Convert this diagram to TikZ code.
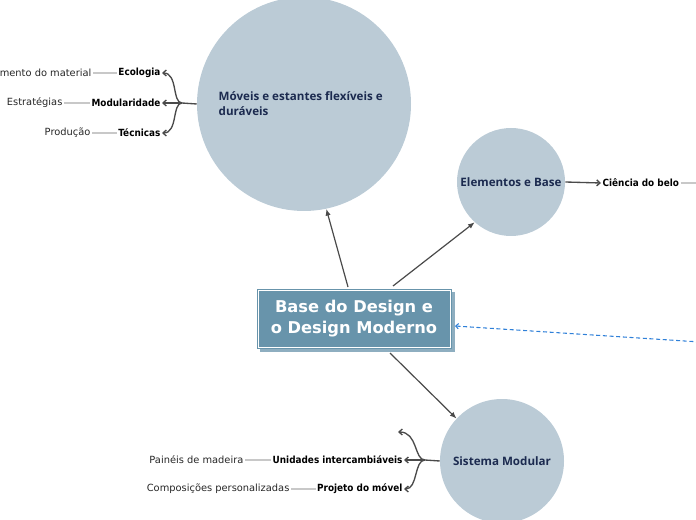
\documentclass[tikz,border=0pt]{standalone}
\usepackage{fontspec}
\setmainfont{DejaVu Sans}
\newfontfamily\condb{DejaVu Sans Condensed}
\newfontfamily\opens{Open Sans}
\usetikzlibrary{arrows.meta}
\definecolor{circ}{HTML}{BBCBD6}
\definecolor{navy}{HTML}{1B2A4F}
\definecolor{boxc}{HTML}{6894AB}
\definecolor{shad}{HTML}{8EAEC0}
\definecolor{conn}{HTML}{4A4A4A}
\definecolor{thin}{HTML}{C8C8C8}
\definecolor{dashb}{HTML}{2F80D8}
\tikzset{
  bubble/.style={circle, fill=circ, inner sep=0pt},
  ctext/.style={font=\opens\bfseries\fontsize{8.7}{11.5}\selectfont, text=navy, align=left},
  lab/.style={font=\condb\bfseries\fontsize{7.4}{8}\selectfont, inner sep=1pt},
  sub/.style={font=\fontsize{7.4}{8}\selectfont, text=black!85, inner sep=1pt},
  mainarrow/.style={draw=conn, line width=0.9pt, -{Latex[length=5pt,width=4pt]}},
  brarrow/.style={draw=conn, line width=1pt, -{Straight Barb[length=2.5pt,width=4.5pt]}},
  thinline/.style={draw=thin, line width=0.9pt}
}
\begin{document}
\begin{tikzpicture}[x=0.75pt,y=-0.75pt]
\useasboundingbox (0,0) rectangle (696,520);
\clip (0,0) rectangle (696,520);
% circles
\node[bubble, minimum size=160.5pt] (mov) at (304,104) {};
\node[ctext, anchor=north west] (movt) at (214,87) {Móveis e estantes flexíveis e\\duráveis};
\node[bubble, minimum size=81pt] (elem) at (511,182) {};
\node[ctext, anchor=center] (elemt) at (511,182) {Elementos e Base};
\node[bubble, minimum size=93pt] (sist) at (502,461) {};
\node[ctext, anchor=center] (sistt) at (502,461) {Sistema Modular};
% central box
\fill[shad] (260,292) rectangle (455,352);
\node[fill=boxc, minimum width=146.25pt, minimum height=45pt, inner sep=0pt, anchor=north west] (base) at (257,289) {};
\draw[white, line width=1pt] (258.5,290.5) rectangle (450.5,347.5);
\node[font=\bfseries\fontsize{12.2}{15.8}\selectfont, text=white, align=center] (baset) at (354,319) {Base do Design e\\o Design Moderno};
% main arrows
\coordinate (b1) at (348,287);
\coordinate (b2) at (393,286);
\coordinate (b3) at (390,353);
\draw[mainarrow] (b1) -- (mov.282);
\draw[mainarrow] (b2) -- (elem.228);
\draw[mainarrow] (b3) -- (sist.137);
% dashed
\coordinate (dr) at (700,342);
\draw[dashb, dashed, dash pattern=on 3pt off 2pt, line width=0.8pt, -{Straight Barb[length=2pt,width=4pt]}] (dr) -- (455,326);
% Elementos -> Ciência
\node[lab, anchor=west] (cien) at (601,183) {Ciência do belo};
\draw[draw=conn, line width=1pt, -{Straight Barb[length=2.5pt,width=4.5pt]}] (elem.east) -- (cien.west);
\coordinate (cr) at (700,183);
\draw[thinline] (cien.east) -- (cr);
% left branches
\coordinate (mj) at (182,103);
\draw[conn, line width=1pt] (mov.west) -- (mj);
\node[lab, anchor=east] (eco) at (162,73) {Ecologia};
\node[lab, anchor=east] (modu) at (162,103) {Modularidade};
\node[lab, anchor=east] (tec) at (162,133) {Técnicas};
\draw[brarrow] (mj) .. controls (172,103) and (178,73) .. (eco.east);
\draw[brarrow] (mj) -- (modu.east);
\draw[brarrow] (mj) .. controls (172,103) and (178,133) .. (tec.east);
\node[sub, anchor=east] (ecos) at (93,73) {mento do material};
\node[sub, anchor=east] (modus) at (64,103) {Estratégias};
\node[sub, anchor=east] (tecs) at (92,133) {Produção};
\draw[thinline] (ecos.east) -- (eco.west);
\draw[thinline] (modus.east) -- (modu.west);
\draw[thinline] (tecs.east) -- (tec.west);
% bottom branches
\coordinate (sj) at (425,460);
\draw[conn, line width=1pt] (sist.west) -- (sj);
\coordinate (e0) at (398,432);
\node[lab, anchor=east] (uni) at (404,460) {Unidades intercambiáveis};
\node[lab, anchor=east] (proj) at (404,489) {Projeto do móvel};
\draw[brarrow] (sj) .. controls (414,460) and (418,432) .. (e0);
\draw[brarrow] (sj) -- (uni.east);
\draw[brarrow] (sj) .. controls (414,460) and (418,489) .. (proj.east);
\node[sub, anchor=east] (unis) at (245,460) {Painéis de madeira};
\node[sub, anchor=east] (projs) at (291,489) {Composições personalizadas};
\draw[thinline] (unis.east) -- (uni.west);
\draw[thinline] (projs.east) -- (proj.west);
\end{tikzpicture}
\end{document}
